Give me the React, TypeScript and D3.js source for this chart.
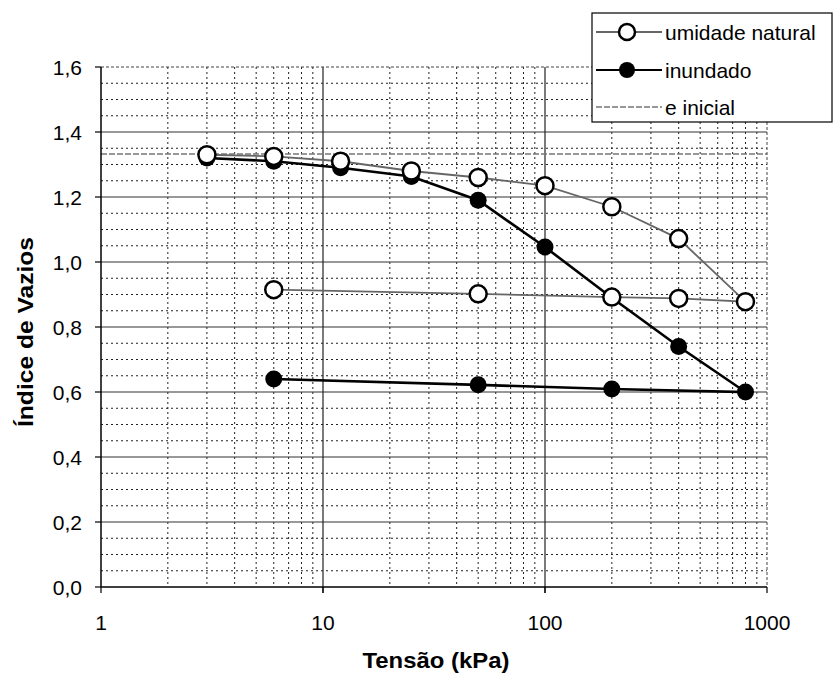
import React from 'react';
import * as d3 from 'd3';

// ensaio edométrico duplo: umidade natural x inundado
const naturalStress = [3, 6, 12, 25, 50, 100, 200, 400, 800, 400, 200, 50, 6];
const naturalVoid = [1.33, 1.325, 1.31, 1.28, 1.26, 1.235, 1.17, 1.072, 0.878, 0.888, 0.892, 0.902, 0.915];

const floodedStress = [3, 6, 12, 25, 50, 100, 200, 400, 800, 200, 50, 6];
const floodedVoid = [1.32, 1.31, 1.29, 1.263, 1.19, 1.046, 0.89, 0.74, 0.6, 0.609, 0.622, 0.64];

const eInicial = 1.332;

const yTicks = [0, 0.2, 0.4, 0.6, 0.8, 1.0, 1.2, 1.4, 1.6];
const xTicks = [1, 10, 100, 1000];

const W = 834, H = 673;
const left = 101, right = 767, top = 67, bottom = 587;
const font = '"Liberation Sans", Arial, sans-serif';

export default function App() {
  const x = d3.scaleLog().domain([1, 1000]).range([left, right]);
  const y = d3.scaleLinear().domain([0, 1.6]).range([bottom, top]);

  const line = d3.line<[number, number]>()
    .x(d => x(d[0]))
    .y(d => y(d[1]));

  const natural = naturalStress.map((s, i) => [s, naturalVoid[i]] as [number, number]);
  const flooded = floodedStress.map((s, i) => [s, floodedVoid[i]] as [number, number]);

  // linhas de grade secundárias
  const minorY = d3.range(0, 1.6001, 0.05).filter(v => Math.abs(v / 0.2 - Math.round(v / 0.2)) > 0.01);
  const minorX: number[] = [];
  [1, 10, 100].forEach(dec => {
    for (let k = 2; k <= 9; k++) minorX.push(dec * k);
  });

  const fmt = (v: number) => v.toFixed(1).replace('.', ',');

  return (
    <svg width={W} height={H} style={{ position: 'absolute', left: 0, top: 0, background: '#fff' }}
      fontFamily={font}>
      <rect x={0} y={0} width={W} height={H} fill="#fff" />

      {minorY.map(v => (
        <line key={'my' + v} x1={left} x2={right} y1={y(v)} y2={y(v)}
          stroke="#222" strokeWidth={1} strokeDasharray="2,3" />
      ))}
      {minorX.map(v => (
        <line key={'mx' + v} x1={x(v)} x2={x(v)} y1={top} y2={bottom}
          stroke="#222" strokeWidth={1} strokeDasharray="2,3" />
      ))}
      {yTicks.slice(1, -1).map(v => (
        <line key={'gy' + v} x1={left} x2={right} y1={y(v)} y2={y(v)}
          stroke="#333" strokeWidth={1.2} />
      ))}
      {[10, 100].map(v => (
        <line key={'gx' + v} x1={x(v)} x2={x(v)} y1={top} y2={bottom + 6}
          stroke="#222" strokeWidth={1.2} />
      ))}

      {/* índice de vazios inicial */}
      <line x1={left} x2={right} y1={y(eInicial)} y2={y(eInicial)}
        stroke="#777" strokeWidth={1.5} strokeDasharray="6,2" />

      {/* moldura */}
      <line x1={left} x2={right} y1={top} y2={top} stroke="#444" strokeWidth={1} strokeDasharray="3,2" />
      <line x1={right} x2={right} y1={top} y2={bottom} stroke="#444" strokeWidth={1} strokeDasharray="3,2" />
      <line x1={left} x2={left} y1={top} y2={bottom} stroke="#000" strokeWidth={1.5} />
      <line x1={left} x2={right} y1={bottom} y2={bottom} stroke="#000" strokeWidth={1.5} />

      {yTicks.map(v => (
        <g key={'ty' + v}>
          <line x1={left - 6} x2={left} y1={y(v)} y2={y(v)} stroke="#000" strokeWidth={1.2} />
          <text x={82} y={y(v)} dy="0.36em" textAnchor="end" fontSize={21}>{fmt(v)}</text>
        </g>
      ))}
      {xTicks.map(v => (
        <g key={'tx' + v}>
          <line x1={x(v)} x2={x(v)} y1={bottom} y2={bottom + 6} stroke="#000" strokeWidth={1.2} />
          <text x={x(v)} y={630} textAnchor="middle" fontSize={21}>{v}</text>
        </g>
      ))}

      <text x={436} y={668} textAnchor="middle" fontSize={22} fontWeight="bold"
        textLength={147} lengthAdjust="spacingAndGlyphs">Tensão (kPa)</text>
      <text transform={`translate(33,332) rotate(-90)`} textAnchor="middle" fontSize={22}
        fontWeight="bold" textLength={190} lengthAdjust="spacingAndGlyphs">Índice de Vazios</text>

      {/* séries */}
      <path d={line(natural) || ''} fill="none" stroke="#666" strokeWidth={1.8} />
      <path d={line(flooded) || ''} fill="none" stroke="#000" strokeWidth={2.6} />
      {flooded.map((d, i) => (
        <circle key={'f' + i} cx={x(d[0])} cy={y(d[1])} r={8.5} fill="#000" />
      ))}
      {natural.map((d, i) => (
        <circle key={'n' + i} cx={x(d[0])} cy={y(d[1])} r={8.5} fill="#fff" stroke="#000" strokeWidth={2.5} />
      ))}

      {/* legenda */}
      <rect x={592} y={13} width={240} height={109} fill="#fff" stroke="#000" strokeWidth={1.2} />
      <line x1={596} x2={662} y1={32} y2={32} stroke="#666" strokeWidth={1.8} />
      <circle cx={627} cy={32} r={8} fill="#fff" stroke="#000" strokeWidth={2.5} />
      <text x={665} y={32} dy="0.36em" fontSize={21}>umidade natural</text>
      <line x1={596} x2={662} y1={70} y2={70} stroke="#000" strokeWidth={2.2} />
      <circle cx={627} cy={70} r={8} fill="#000" />
      <text x={665} y={70} dy="0.36em" fontSize={21}>inundado</text>
      <line x1={596} x2={662} y1={107} y2={107} stroke="#777" strokeWidth={1.5} strokeDasharray="6,2" />
      <text x={665} y={107} dy="0.36em" fontSize={21}>e inicial</text>
    </svg>
  );
}
